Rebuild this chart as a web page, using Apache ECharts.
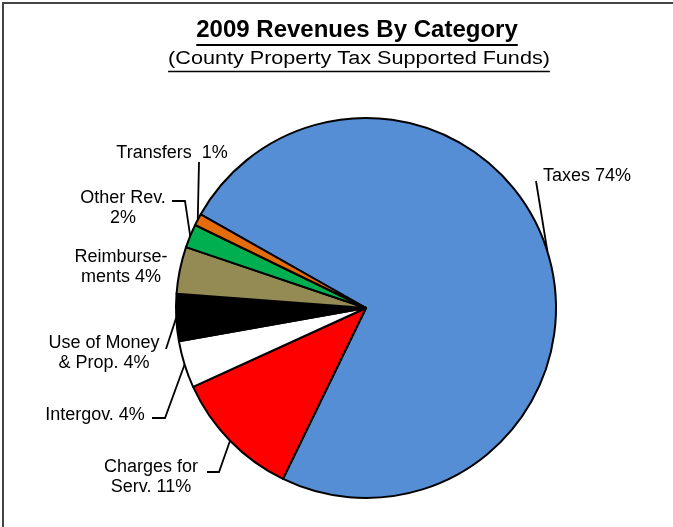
<!DOCTYPE html>
<html>
<head>
<meta charset="utf-8">
<style>
  html, body { margin: 0; padding: 0; background: #fff; }
  #chart { width: 673px; height: 527px; }
</style>
<script src="https://cdn.jsdelivr.net/npm/echarts@6/dist/echarts.min.js"></script>
</head>
<body>
<div id="chart"></div>
<script>
// Revenue categories, clockwise from the Taxes slice
const categories = ['Taxes', 'Charges for Serv.', 'Intergov.', 'Use of Money & Prop.', 'Reimbursements', 'Other Rev.', 'Transfers'];
const shares = [74, 11, 4, 4, 4, 2, 1];
const labelHeads = ['Taxes ', 'Charges for\nServ. ', 'Intergov. ', 'Use of Money\n& Prop. ', 'Reimburse-\nments ', 'Other Rev.\n', 'Transfers  '];
const sliceColors = ['#558ED5', '#FF0000', '#FFFFFF', '#000000', '#948A54', '#00B050', '#E46C0A'];

const titleText = '2009 Revenues By Category';
const subtitleText = '(County Property Tax Supported Funds)';

const FONT = '"Liberation Sans", Arial, sans-serif';

// Label anchor (centre of text block) and leader-line bend points, per slice
const labelSpots = [
  { x: 587, y: 176, bend: [[536, 181]] },
  { x: 151, y: 477, bend: [[219, 472], [207, 472]] },
  { x: 95,  y: 415, bend: [[165, 418], [152, 418]] },
  { x: 104, y: 353, bend: [[166, 349]] },
  { x: 121, y: 267, bend: null },
  { x: 123, y: 208, bend: [[185, 201], [172, 201]] },
  { x: 172, y: 153, bend: [[199, 162]] }
];

function textWidth(str, font) {
  const ctx = document.createElement('canvas').getContext('2d');
  ctx.font = font;
  return ctx.measureText(str).width;
}

const titleFont = 'bold 24px ' + FONT;
const subFont = '18px ' + FONT;
const subScale = 1.2;
const titleW = textWidth(titleText, titleFont);
const subW = textWidth(subtitleText, subFont) * subScale;
const titleCx = 357, subCx = 359;

const chart = echarts.init(document.getElementById('chart'), null, { renderer: 'canvas' });

chart.setOption({
  animation: false,
  backgroundColor: '#ffffff',
  graphic: [
    // chart frame
    { type: 'rect', shape: { x: 3, y: 3, width: 720, height: 600 }, style: { fill: 'none', stroke: '#444444', lineWidth: 2 }, z: 0 },
    { type: 'text', x: titleCx, y: 42, style: { text: titleText, font: titleFont, fill: '#000', textAlign: 'center', textVerticalAlign: 'bottom' }, z: 10 },
    { type: 'line', shape: { x1: titleCx - titleW / 2, y1: 45, x2: titleCx + titleW / 2, y2: 45 }, style: { stroke: '#000', lineWidth: 2 }, z: 10 },
    { type: 'text', x: subCx, y: 68, scaleX: subScale, originX: 0, originY: 0, style: { text: subtitleText, font: subFont, fill: '#000', textAlign: 'center', textVerticalAlign: 'bottom' }, z: 10 },
    { type: 'line', shape: { x1: subCx - subW / 2, y1: 71.5, x2: subCx + subW / 2, y2: 71.5 }, style: { stroke: '#000', lineWidth: 1.5 }, z: 10 }
  ],
  series: [{
    type: 'pie',
    center: [366, 308],
    radius: 190,
    startAngle: 150.5,
    clockwise: true,
    avoidLabelOverlap: false,
    itemStyle: { borderColor: '#000', borderWidth: 2 },
    label: {
      show: true,
      position: 'outside',
      color: '#000',
      fontFamily: FONT,
      fontSize: 18,
      lineHeight: 20,
      formatter: p => labelHeads[p.dataIndex] + p.value + '%'
    },
    labelLine: { show: true, lineStyle: { color: '#000', width: 1.8 } },
    labelLayout: function (params) {
      const spot = labelSpots[params.dataIndex];
      const out = { x: spot.x, y: spot.y, align: 'center', verticalAlign: 'middle' };
      if (spot.bend && params.labelLinePoints) {
        const edge = params.labelLinePoints[0];
        const pts = [edge].concat(spot.bend);
        while (pts.length < 3) pts.push(pts[pts.length - 1]);
        out.labelLinePoints = pts;
      }
      return out;
    },
    data: categories.map((name, i) => ({
      name: name,
      value: shares[i],
      itemStyle: { color: sliceColors[i] },
      labelLine: { show: labelSpots[i].bend !== null }
    }))
  }]
});
</script>
</body>
</html>
